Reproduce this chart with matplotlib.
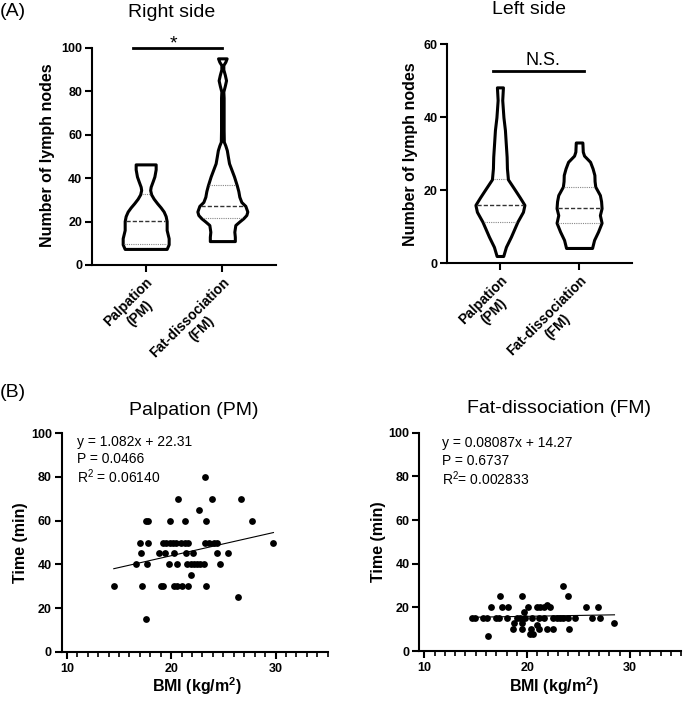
import numpy as np
import matplotlib.pyplot as plt
from matplotlib.ticker import MultipleLocator

plt.rcParams['font.family'] = ['Liberation Sans', 'DejaVu Sans']
plt.rcParams['mathtext.fontset'] = 'custom'
plt.rcParams['mathtext.rm'] = 'Liberation Sans'
plt.rcParams['mathtext.bf'] = 'Liberation Sans:bold'

groups = ['Palpation\n(PM)', 'Fat-dissociation\n(FM)']

# violin outlines: level (number of nodes) and half width (px)
right_pm_y = [7.4, 9.5, 12.3, 16.1, 20.2, 22.5, 24.6, 26.5, 28.4, 30.5, 32.5, 34.5, 36, 38.5, 40.7, 44, 46.3]
right_pm_w = [21, 23, 23, 21, 21, 20, 18, 15, 11.5, 8, 5.5, 4.5, 5, 7, 8.7, 10, 10]
right_fm_y = [11, 13, 15.3, 18.4, 20, 21.5, 23, 24.6, 27.2, 29, 31.4, 34, 36.6, 40.7, 44, 46.8, 50,
              52.8, 55, 56.7, 62, 70, 77, 79.8, 82.5, 85, 87.5, 90, 92, 93.5, 95.1]
right_fm_w = [12.5, 12.5, 12, 13, 17, 21, 24, 25, 23, 19, 17, 16, 14.5, 11.7, 9, 6.7, 5.5,
              4.5, 3, 1.5, 1.3, 1.3, 1.3, 1, 2.5, 3.7, 2.5, 1, 1, 3, 4.3]
left_pm_y = [2.0, 4.5, 7.3, 11.4, 14.1, 16, 18, 20.1, 23, 26, 29.2, 33, 36.5, 40, 44.7, 48.2]
left_pm_w = [3.3, 6, 11, 17.5, 23, 24.5, 20, 15, 8, 7, 6.7, 5.8, 5, 3.5, 2.3, 3]
left_fm_y = [4.2, 6.4, 8.7, 11.1, 13.2, 15.1, 17, 18.7, 21, 22.5, 24.2, 26, 27.8, 29.5, 30.6, 33.1]
left_fm_w = [13, 15, 19, 22.5, 20.8, 22.5, 22, 20.8, 16.2, 15.5, 15.3, 13.5, 11, 5, 3.7, 3.3]

# quartile 1, median, quartile 3
right_pm_q = [9.5, 20.2, 32.5]
right_fm_q = [21.5, 27.2, 36.6]
left_pm_q = [11.4, 16.0, 23.0]
left_fm_q = [11.1, 15.1, 21.0]

# BMI vs operating time
bmi_pm = [14.5, 16.6, 17.0, 17.1, 17.2, 17.6, 17.8, 17.6, 17.7, 17.8, 18.8, 19.0, 19.2,
          19.2, 19.5, 19.9, 20.2, 20.5, 20.9, 21.3, 21.6, 19.4, 20.3, 21.4, 22.1, 19.9, 20.7,
          19.8, 20.6, 21.5, 21.9, 22.2, 22.5, 22.8, 23.1, 21.9, 20.3, 20.6, 21.0, 21.6, 21.3,
          22.7, 23.2, 23.3, 23.9, 23.3, 23.2, 23.6, 24.1, 24.4, 24.4, 25.4, 24.7, 26.4, 26.7,
          27.7, 29.8]
time_pm = [30, 40, 50, 45, 30, 60, 60, 15, 40, 50, 45, 30, 30,
           50, 50, 50, 50, 50, 50, 50, 50, 45, 45, 45, 45, 60, 70,
           40, 40, 40, 40, 40, 40, 40, 40, 35, 30, 30, 30, 30, 60,
           65, 80, 60, 70, 30, 50, 50, 50, 50, 45, 45, 40, 25, 70,
           60, 50]
bmi_fm = [23.5, 17.4, 19.5, 24.0, 16.5, 17.6, 18.1, 20.1, 21.0, 21.3, 21.6, 21.9, 22.2, 25.7,
          26.9, 19.7, 14.6, 14.9, 15.7, 16.1, 17.0, 17.3, 18.0, 19.0, 19.3, 19.8, 20.5, 21.2,
          21.6, 22.5, 22.9, 23.2, 23.5, 24.0, 24.7, 26.3, 27.1, 18.7, 19.5, 28.5, 21.0, 18.6,
          19.5, 20.4, 21.2, 21.9, 22.5, 24.1, 20.3, 20.6, 16.2]
time_fm = [30, 25, 25, 25, 20, 20, 20, 20, 20, 20, 20, 21, 20, 20,
           20, 18, 15, 15, 15, 15, 15, 15, 15, 15, 15, 15, 15, 15,
           15, 15, 15, 15, 15, 15, 15, 15, 15, 13, 13, 13, 12, 10,
           10, 10, 10, 10, 10, 10, 8, 8, 7]

fit_pm = [1.082, 22.31]
fit_fm = [0.08087, 14.27]
stats_pm = ['y = 1.082x + 22.31', 'P = 0.0466', r'R$^2$ = 0.06140']
stats_fm = ['y = 0.08087x + 14.27', 'P = 0.6737', r'R$^2$= 0.002833']

fig = plt.figure(figsize=(6.85, 7.01), dpi=100)
W, H = 685, 701


def rect(x0, y0, x1, y1):
    return [x0 / W, 1 - y1 / H, (x1 - x0) / W, (y1 - y0) / H]


def style(ax):
    for s in ['top', 'right']:
        ax.spines[s].set_visible(False)
    for s in ['left', 'bottom']:
        ax.spines[s].set_linewidth(1.5)
    ax.tick_params(width=1.5, length=5, labelsize=9, pad=2)


def violin(ax, c, ys, ws, q, px):
    ys = np.array(ys)
    hw = np.array(ws) / px
    ax.fill_betweenx(ys, c - hw, c + hw, facecolor='white', edgecolor='black',
                     lw=2.2, joinstyle='round', zorder=3)
    for v, st in zip(q, ['q', 'm', 'q']):
        w = np.interp(v, ys, hw) - 0.02
        if st == 'm':
            ax.plot([c - w, c + w], [v, v], color='#333333', lw=1.0, dashes=(3, 1.5), zorder=4)
        else:
            ax.plot([c - w, c + w], [v, v], color='#888888', lw=0.8, dashes=(1, 1), zorder=4)


# (A) violins
ax1 = fig.add_axes(rect(92, 47.7, 276, 265))
ax2 = fig.add_axes(rect(447.3, 44.3, 631.7, 263.3))
for ax, yl, yt in [(ax1, 100, [0, 20, 40, 60, 80, 100]), (ax2, 60, [0, 20, 40, 60])]:
    style(ax)
    ax.set_ylim(0, yl)
    ax.set_yticks(yt, [str(t) for t in yt], fontweight='bold')
    ax.set_xticks([0, 1], groups, rotation=45, ha='right', va='top', rotation_mode='anchor',
                  fontweight='bold', fontsize=10, multialignment='center')
    ax.set_ylabel('Number of lymph nodes', fontsize=11.5, fontweight='bold', va='center')
ax1.set_xlim(-0.7, 1.7)
ax2.set_xlim(-0.665, 1.665)
ax1.yaxis.set_label_coords(-0.241, 0.506)
ax2.yaxis.set_label_coords(-0.202, 0.498)

violin(ax1, 0, right_pm_y, right_pm_w, right_pm_q, 76.7)
violin(ax1, 1, right_fm_y, right_fm_w, right_fm_q, 76.7)
violin(ax2, 0, left_pm_y, left_pm_w, left_pm_q, 79.1)
violin(ax2, 1, left_fm_y, left_fm_w, left_fm_q, 79.1)

ax1.plot([-0.17, 1.0], [99.8, 99.8], color='black', lw=2, clip_on=False)
ax1.text(0.36, 99.5, '*', ha='center', va='baseline', fontsize=14, clip_on=False)
ax2.plot([-0.085, 1.063], [52.8, 52.8], color='black', lw=2, clip_on=False)
ax2.text(0.547, 54.3, 'N.S.', ha='center', va='baseline', fontsize=13)

# (B) scatter
ax3 = fig.add_axes(rect(61.6, 433.3, 327.7, 651.7))
ax4 = fig.add_axes(rect(419.2, 432.7, 681.3, 651))
for ax, bmi, t, fit, stats, tx, ty in [(ax3, bmi_pm, time_pm, fit_pm, stats_pm, 11.0, 96.2),
                                       (ax4, bmi_fm, time_fm, fit_fm, stats_fm, 11.7, 95.1)]:
    style(ax)
    ax.set_xlim(9.5, 35)
    ax.set_ylim(0, 100)
    ax.set_xticks([10, 20, 30], ['10', '20', '30'], fontweight='bold')
    ax.xaxis.set_minor_locator(MultipleLocator(1))
    ax.tick_params(axis='x', which='minor', width=1.2, length=3.5)
    ax.tick_params(axis='x', which='major', pad=3)
    ax.set_yticks([0, 20, 40, 60, 80, 100], ['0', '20', '40', '60', '80', '100'], fontweight='bold')
    ax.scatter(bmi, t, s=24, color='black', linewidths=0, zorder=3, clip_on=False)
    xs = np.array([min(bmi), max(bmi)])
    ax.plot(xs, fit[0] * xs + fit[1], color='black', lw=0.8, zorder=2)
    for i, s in enumerate(stats):
        ax.text(tx, ty - 8 * i, s, ha='left', va='center', fontsize=10)
    ax.set_ylabel('Time (min)', fontsize=11.5, fontweight='bold', va='center')
    ax.set_xlabel(r'BMI (kg/m$\mathbf{^2}$)', fontsize=11.5, fontweight='bold', va='center')
ax3.yaxis.set_label_coords(-0.154, 0.5)
ax4.yaxis.set_label_coords(-0.156, 0.5)
ax3.xaxis.set_label_coords(0.508, -0.16)
ax4.xaxis.set_label_coords(0.514, -0.163)

# panel letters and titles
fig.text(0 / W, 1 - 11 / H, '(A)', ha='left', va='center', fontsize=14)
fig.text(171.7 / W, 1 - 16.7 / H, 'Right side', ha='center', va='baseline', fontsize=14)
fig.text(528.8 / W, 1 - 14.3 / H, 'Left side', ha='center', va='baseline', fontsize=14)
fig.text(0 / W, 1 - 392.5 / H, '(B)', ha='left', va='center', fontsize=14)
fig.text(193.8 / W, 1 - 415 / H, 'Palpation (PM)', ha='center', va='baseline', fontsize=14)
fig.text(559.2 / W, 1 - 413.3 / H, 'Fat-dissociation (FM)', ha='center', va='baseline', fontsize=14)

fig.savefig('out.png', dpi=100)
